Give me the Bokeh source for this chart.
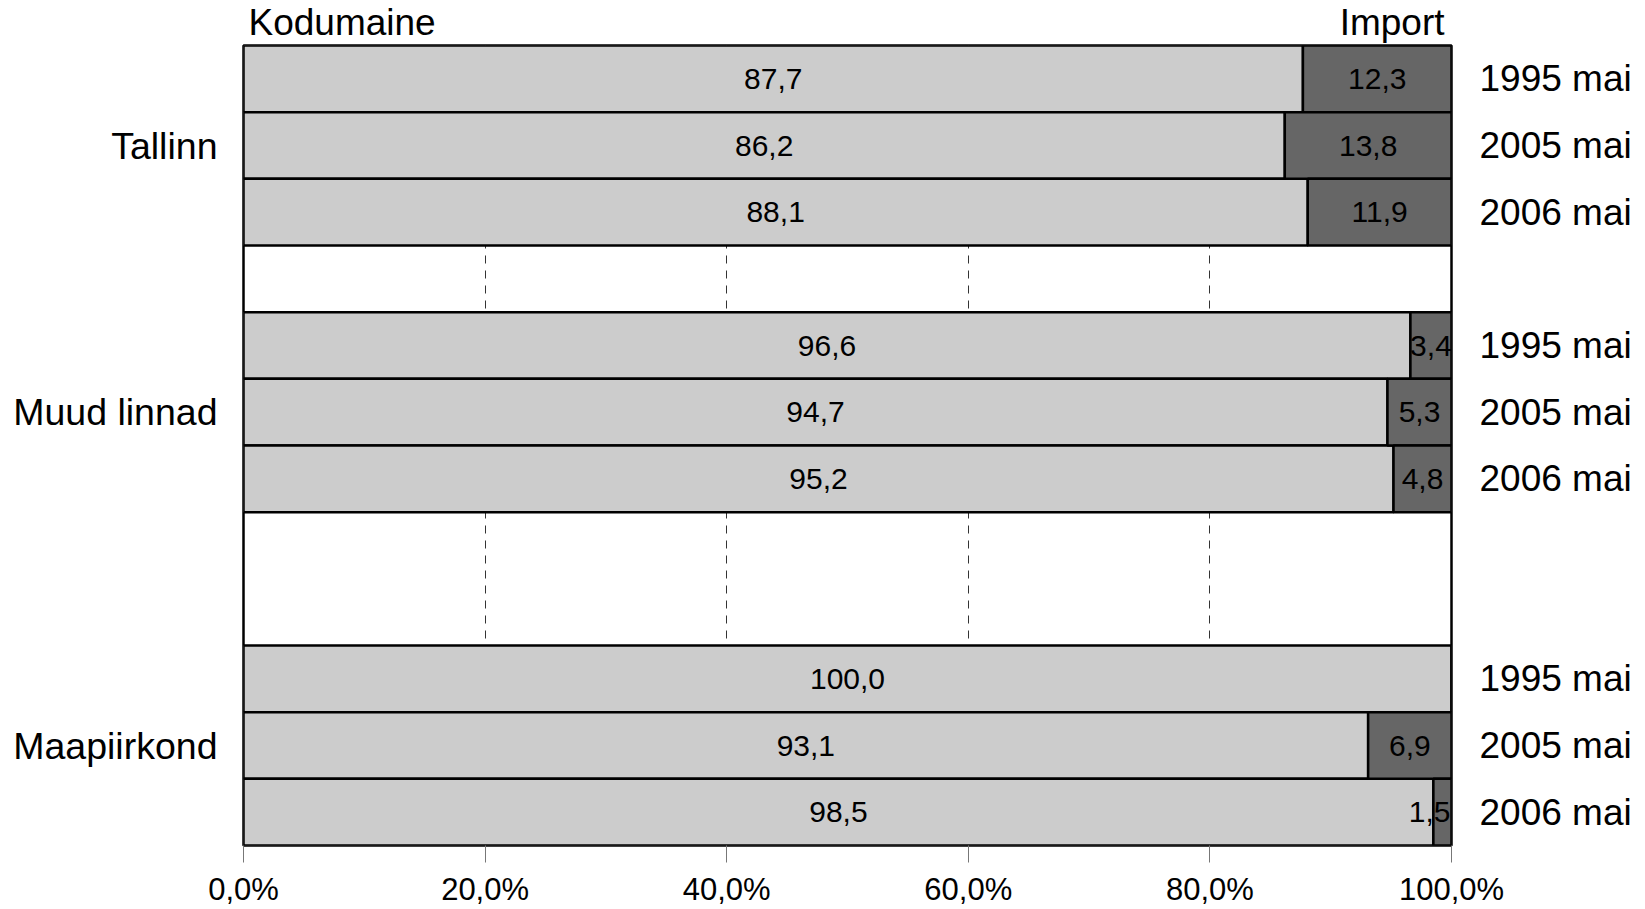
from bokeh.plotting import figure
from bokeh.models import (Range1d, LinearAxis, FixedTicker, ColumnDataSource,
                          CDSView, BooleanFilter)
from bokeh.layouts import column
from bokeh.core.properties import value
from bokeh.embed import file_html
from bokeh.resources import INLINE

# ---- data ----
groups = ["Tallinn", "Muud linnad", "Maapiirkond"]
periods = ["1995 mai", "2005 mai", "2006 mai"]
kodumaine = [87.7, 86.2, 88.1, 96.6, 94.7, 95.2, 100.0, 93.1, 98.5]
imports = [12.3, 13.8, 11.9, 3.4, 5.3, 4.8, 0.0, 6.9, 1.5]
x_ticks = [0, 20, 40, 60, 80, 100]
x_tick_labels = ["0,0%", "20,0%", "40,0%", "60,0%", "80,0%", "100,0%"]
series_names = ["Kodumaine", "Import"]

# ---- layout of rows (slot start of each group; empty slots between groups) ----
group_start = [0, 4, 9]
n_slots = 12
FONT = "Liberation Sans"
W = 1640
LEFT, RIGHT = 243, 189

ys, period_labels = [], []
for gs in group_start:
    for j, per in enumerate(periods):
        ys.append(gs + j + 0.5)
        period_labels.append(per)
group_centers = [gs + 1.5 for gs in group_start]


def fmt(v):
    return f"{v:.1f}".replace(".", ",")


src = ColumnDataSource(dict(
    y=ys,
    kod=kodumaine,
    imp=imports,
    kod_mid=[k / 2 for k in kodumaine],
    imp_mid=[k + i / 2 for k, i in zip(kodumaine, imports)],
    kod_txt=[fmt(k) for k in kodumaine],
    imp_txt=[fmt(i) if i > 0 else "" for i in imports],
    total=[k + i for k, i in zip(kodumaine, imports)],
))
narrow = [0 < i < 2.5 for i in imports]

x_range = Range1d(0, 100)

# ---- header strip with the series names ----
top = figure(width=W, height=44, x_range=x_range, y_range=Range1d(0, 1),
             output_backend="svg", toolbar_location=None,
             x_axis_location=None, y_axis_location=None,
             min_border_left=LEFT, min_border_right=RIGHT,
             min_border_top=0, min_border_bottom=0)
top.outline_line_color = None
top.grid.visible = False
top.text(x=[0], y=[0.5], text=[series_names[0]], text_align="left",
         text_baseline="middle", x_offset=5,
         text_font=value(FONT), text_font_size="37px", text_color="black")
top.text(x=[100], y=[0.5], text=[series_names[1]], text_align="right",
         text_baseline="middle", x_offset=-7,
         text_font=value(FONT), text_font_size="37px", text_color="black")

# ---- main chart ----
p = figure(width=W, height=865, x_range=x_range,
           y_range=Range1d(n_slots, 0), output_backend="svg",
           toolbar_location=None, min_border_left=LEFT,
           min_border_right=RIGHT, min_border_top=1, min_border_bottom=20)
p.outline_line_color = "black"
p.outline_line_width = 2.5

# grid
p.ygrid.visible = False
p.xgrid.ticker = FixedTicker(ticks=x_ticks[1:-1])
p.xgrid.grid_line_color = "#333333"
p.xgrid.grid_line_width = 1
p.xgrid.grid_line_dash = "8 7"

# bars
p.hbar(y="y", left=0, right="kod", height=1.0, source=src,
       fill_color="#CCCCCC", line_color="black", line_width=2.5)
p.hbar(y="y", left="kod", right="total", height=1.0, source=src,
       fill_color="#666666", line_color="black", line_width=2.5)

# value labels
txt_style = dict(text_baseline="middle", text_font=value(FONT),
                 text_font_size="30px", text_color="black")
p.text(x="kod_mid", y="y", text="kod_txt", source=src,
       text_align="center", **txt_style)
p.text(x="imp_mid", y="y", text="imp_txt", source=src,
       view=CDSView(filter=BooleanFilter([not n for n in narrow])),
       text_align="center", **txt_style)
p.text(x="total", y="y", text="imp_txt", source=src,
       view=CDSView(filter=BooleanFilter(narrow)),
       text_align="right", x_offset=-1, **txt_style)

# x axis
xa = p.xaxis[0]
xa.ticker = FixedTicker(ticks=x_ticks)
xa.major_label_overrides = {t: l for t, l in zip(x_ticks, x_tick_labels)}
xa.axis_line_color = None
xa.major_tick_line_color = "#777777"
xa.major_tick_line_width = 1
xa.major_tick_out = 17
xa.major_tick_in = 0
xa.minor_tick_line_color = None
xa.major_label_standoff = 9
xa.major_label_text_font = FONT
xa.major_label_text_font_size = "31px"
xa.major_label_text_color = "black"

# left axis: group names
ya = p.yaxis[0]
ya.ticker = FixedTicker(ticks=group_centers)
ya.major_label_overrides = {c: g for c, g in zip(group_centers, groups)}
ya.axis_line_color = None
ya.major_tick_line_color = None
ya.minor_tick_line_color = None
ya.major_tick_out = 0
ya.major_tick_in = 0
ya.major_label_standoff = 26
ya.major_label_text_font = FONT
ya.major_label_text_font_size = "37.5px"
ya.major_label_text_color = "black"

# right axis: periods
ra = LinearAxis(ticker=FixedTicker(ticks=ys),
                major_label_overrides={y: l for y, l in zip(ys, period_labels)})
ra.axis_line_color = None
ra.major_tick_line_color = None
ra.minor_tick_line_color = None
ra.major_tick_out = 0
ra.major_tick_in = 0
ra.major_label_standoff = 28
ra.major_label_text_font = FONT
ra.major_label_text_font_size = "37px"
ra.major_label_text_color = "black"
p.add_layout(ra, "right")

layout = column(top, p, spacing=0)
open("out.html", "w").write(file_html(layout, INLINE))
